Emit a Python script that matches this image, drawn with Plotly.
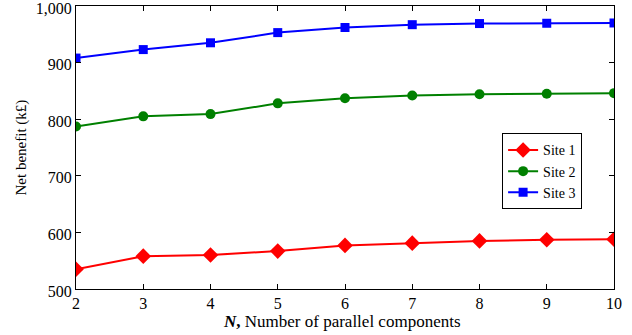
import plotly.graph_objects as go

n_components = [2, 3, 4, 5, 6, 7, 8, 9, 10]
site1 = [535, 558, 560, 567, 577, 581, 585, 587, 588]
site2 = [787, 805, 809, 828, 837, 842, 844, 845, 846]
site3 = [908, 923, 935, 953, 962, 967, 969, 969.5, 970]

y_tickvals = [500, 600, 700, 800, 900, 1000]
y_ticktext = ["500", "600", "700", "800", "900", "1,000"]
x_tickvals = [2, 3, 4, 5, 6, 7, 8, 9, 10]

font = "Liberation Serif, Times New Roman, serif"

fig = go.Figure()
fig.add_trace(go.Scatter(x=n_components, y=site1, name="Site 1", mode="lines+markers",
                         line=dict(color="#ff0000", width=2),
                         marker=dict(symbol="diamond", size=12, color="#ff0000")))
fig.add_trace(go.Scatter(x=n_components, y=site2, name="Site 2", mode="lines+markers",
                         line=dict(color="#008000", width=2),
                         marker=dict(symbol="circle", size=10, color="#008000")))
fig.add_trace(go.Scatter(x=n_components, y=site3, name="Site 3", mode="lines+markers",
                         line=dict(color="#0000ff", width=2),
                         marker=dict(symbol="square", size=9, color="#0000ff")))

axis_common = dict(showline=True, linecolor="black", linewidth=1, mirror="ticks",
                   ticks="inside", ticklen=5, tickcolor="black", showgrid=False,
                   zeroline=False, automargin=False, ticklabeloverflow="allow",
                   tickfont=dict(family=font, size=16, color="black"))

fig.update_layout(
    width=632, height=335,
    margin=dict(l=76, r=18, t=6, b=46),
    paper_bgcolor="white", plot_bgcolor="white",
    font=dict(family=font, color="black"),
    showlegend=True,
    legend=dict(x=0.792, y=0.55, xanchor="left", yanchor="top",
                bordercolor="black", borderwidth=1, bgcolor="white",
                font=dict(family=font, size=14, color="black"),
                tracegroupgap=0, itemwidth=30),
    xaxis=dict(range=[2, 10], tickvals=x_tickvals, **axis_common),
    yaxis=dict(range=[500, 1000], tickvals=y_tickvals, ticktext=y_ticktext,
               ticklabelshift=2, **axis_common),
    annotations=[
        dict(text="<b><i>N</i>,</b> Number of parallel components", xref="paper", yref="paper",
             x=0.5, y=0, yshift=-32, xshift=-3, xanchor="center", yanchor="middle", showarrow=False,
             font=dict(family=font, size=17, color="black")),
        dict(text="Net benefit (k£)", xref="paper", yref="paper", textangle=-90,
             x=0, y=0.5, xshift=-55, xanchor="center", yanchor="middle", showarrow=False,
             font=dict(family=font, size=15, color="black")),
    ],
)

fig.write_html("out.html", config={"displayModeBar": False},
               post_script="document.body.style.margin='0';document.body.style.overflow='hidden';")
